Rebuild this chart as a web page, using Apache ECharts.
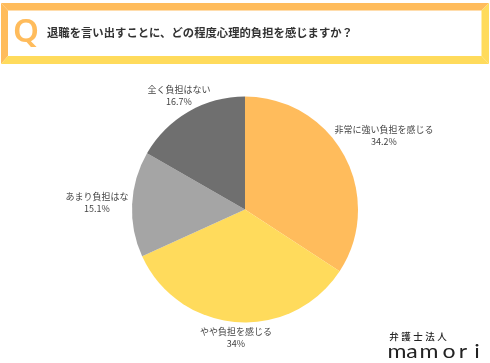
<!DOCTYPE html>
<html>
<head>
<meta charset="utf-8">
<style>
  html, body { margin: 0; padding: 0; background: #fff; }
  #chart { width: 490px; height: 363px; }
</style>
<script src="https://cdn.jsdelivr.net/npm/echarts@6/dist/echarts.min.js"></script>
</head>
<body>
<div id="chart"></div>
<script>
var questionText = '退職を言い出すことに、どの程度心理的負担を感じますか？'
var categories = ['非常に強い負担を感じる', 'やや負担を感じる', 'あまり負担はな', '全く負担はない']
var shares = [34.2, 34, 15.1, 16.7]
var sliceColors = ['#FFBC5C', '#FFDB5C', '#A5A5A5', '#6F6F6F']
var labelSpots = [[384, 136], [236, 338], [97, 203], [179, 96]]
var logoTop = ['弁', '護', '士', '法', '人']
var logoTopX = [394, 406, 418, 430, 442]
var logoBottom = ['m', 'a', 'm', 'o', 'r', 'i']
var logoBottomX = [397, 412, 429, 449, 463, 477]
var fontJp = '"Noto Sans CJK JP", sans-serif'

var chart = echarts.init(document.getElementById('chart'), null, { renderer: 'canvas' })

var frame = [
  // question frame: orange top/left, yellow bottom/right, mitred corners
  { type: 'polygon', shape: { points: [[1, 3], [489, 3], [481.5, 10.5], [8, 10.5]] }, style: { fill: '#FFBC5C' } },
  { type: 'polygon', shape: { points: [[1, 3], [8, 10.5], [8, 56], [1, 64]] }, style: { fill: '#FFBC5C' } },
  { type: 'polygon', shape: { points: [[1, 64], [8, 56], [481.5, 56], [489, 64]] }, style: { fill: '#FFDB5C' } },
  { type: 'polygon', shape: { points: [[489, 3], [481.5, 10.5], [481.5, 56], [489, 64]] }, style: { fill: '#FFDB5C' } },
  { type: 'text', x: 26, y: 33, style: { text: 'Q', fill: '#FFBC5C', font: '600 33px "Noto Sans", sans-serif', align: 'center', verticalAlign: 'middle' } },
  { type: 'text', x: 47, y: 33, style: { text: questionText, fill: '#333', font: 'bold 11.35px ' + fontJp, align: 'left', verticalAlign: 'middle' } }
]
var logo = logoTop.map(function(ch, i) {
  return { type: 'text', x: logoTopX[i], y: 336, style: { text: ch, fill: '#222', font: '500 9.5px ' + fontJp, align: 'center', verticalAlign: 'middle' } }
}).concat(logoBottom.map(function(ch, i) {
  return { type: 'text', x: logoBottomX[i], y: 352, scaleX: 1.15, style: { text: ch, fill: '#222', font: '20px Lato, sans-serif', align: 'center', verticalAlign: 'middle' } }
}))

chart.setOption({
  animation: false,
  backgroundColor: '#fff',
  graphic: frame.concat(logo),
  series: [{
    type: 'pie',
    center: [245, 209.5],
    radius: [0, 113],
    startAngle: 90,
    clockwise: true,
    data: categories.map(function(name, i) {
      return { name: name, value: shares[i], itemStyle: { color: sliceColors[i] } }
    }),
    label: {
      show: true,
      position: 'outside',
      formatter: function(p) { return p.name + '\n' + p.value + '%' },
      color: '#444',
      fontFamily: fontJp,
      fontSize: 9,
      lineHeight: 12,
      overflow: 'none',
      bleedMargin: 0
    },
    labelLine: { show: false },
    labelLayout: function(p) {
      return {
        x: labelSpots[p.dataIndex][0],
        y: labelSpots[p.dataIndex][1],
        align: 'center',
        verticalAlign: 'middle',
        hideOverlap: false
      }
    }
  }]
})
</script>
</body>
</html>
